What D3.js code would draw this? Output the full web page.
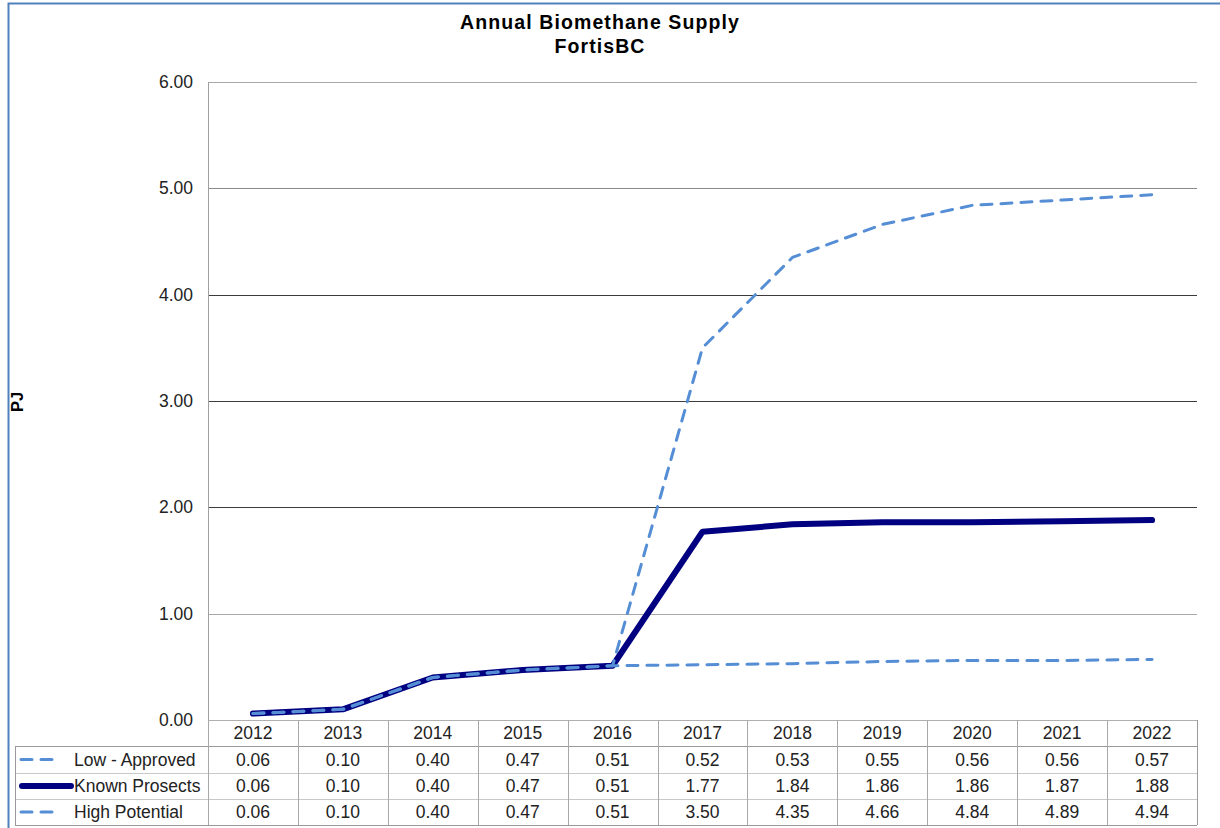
<!DOCTYPE html>
<html>
<head>
<meta charset="utf-8">
<script src="https://cdn.jsdelivr.net/npm/d3@7/dist/d3.min.js"></script>
<style>
  html, body { margin: 0; padding: 0; background: #fff; }
  svg { display: block; font-family: "Liberation Sans", Arial, sans-serif; }
</style>
</head>
<body>
<svg id="chart" width="1220" height="828"></svg>
<script>
// Annual biomethane supply scenarios (PJ)
const years = ["2012","2013","2014","2015","2016","2017","2018","2019","2020","2021","2022"];
const lowApproved   = [0.06, 0.10, 0.40, 0.47, 0.51, 0.52, 0.53, 0.55, 0.56, 0.56, 0.57];
const knownProspects = [0.06, 0.10, 0.40, 0.47, 0.51, 1.77, 1.84, 1.86, 1.86, 1.87, 1.88];
const highPotential = [0.06, 0.10, 0.40, 0.47, 0.51, 3.50, 4.35, 4.66, 4.84, 4.89, 4.94];
const seriesNames = ["Low - Approved", "Known Prosects", "High Potential"];
const yTicks = [0, 1, 2, 3, 4, 5, 6];

const series = [
  { name: seriesNames[0], values: lowApproved,    kind: "dash" },
  { name: seriesNames[1], values: knownProspects, kind: "solid" },
  { name: seriesNames[2], values: highPotential,  kind: "dash" }
];

const NAVY = "#000080";
const LIGHT = "#558ED5";
const DASH = "11,9";

const svg = d3.select("#chart");

// outer chart frame
svg.append("rect")
  .attr("x", 8.5).attr("y", 3.5)
  .attr("width", 1240).attr("height", 860)
  .attr("fill", "#fff")
  .attr("stroke", "#4F81BD").attr("stroke-width", 2);

const plot = { left: 208, right: 1197, top: 82, bottom: 720 };

const x = d3.scaleBand().domain(years).range([plot.left, plot.right]);
const y = d3.scaleLinear().domain([0, 6]).range([plot.bottom, plot.top]);
const cx = d => x(d) + x.bandwidth() / 2;

// title
const title = svg.append("g").attr("font-weight", "bold").attr("text-anchor", "middle")
  .attr("fill", "#000");
title.append("text").attr("x", 600).attr("y", 29)
  .attr("font-size", 19.5).attr("letter-spacing", 1.1)
  .text("Annual Biomethane Supply");
title.append("text").attr("x", 600).attr("y", 53)
  .attr("font-size", 19.5).attr("letter-spacing", 1.1)
  .text("FortisBC");

// gridlines
const gridTone = v => (v >= 2 && v <= 4) ? "#3c3c3c" : (v === 5 ? "#8a8a8a" : "#a8a8a8");
svg.append("g").selectAll("line").data(yTicks.filter(v => v > 0)).join("line")
  .attr("x1", plot.left).attr("x2", plot.right)
  .attr("y1", d => Math.round(y(d)) + 0.5).attr("y2", d => Math.round(y(d)) + 0.5)
  .attr("stroke", gridTone).attr("stroke-width", 1);

// value axis
const yAxis = svg.append("g").attr("transform", `translate(${plot.left},0)`)
  .call(d3.axisLeft(y).tickValues(yTicks).tickFormat(d3.format(".2f")).tickSize(0).tickPadding(15));
yAxis.select(".domain").remove();
yAxis.selectAll("text").attr("font-size", 17.5).attr("fill", "#222")
  .attr("font-family", "Liberation Sans, Arial, sans-serif");

svg.append("line")
  .attr("x1", plot.left + 0.5).attr("x2", plot.left + 0.5)
  .attr("y1", plot.top).attr("y2", plot.bottom)
  .attr("stroke", "#a0a0a0");

// axis title
svg.append("text")
  .attr("transform", "translate(23,402) rotate(-90)")
  .attr("text-anchor", "middle").attr("font-weight", "bold").attr("font-size", 16.5)
  .attr("font-family", "Liberation Sans, Arial, sans-serif")
  .text("PJ");

// data table
const rowTop = [720, 746, 773, 799];
const rowBot = [746, 773, 799, 825];
const tableLeft = 15;
const table = svg.append("g");

// header (category) row
table.selectAll("text.year").data(years).join("text")
  .attr("class", "year")
  .attr("x", cx).attr("y", 733).attr("dy", "0.35em")
  .attr("text-anchor", "middle").attr("font-size", 17.5).attr("fill", "#222")
  .text(d => d);

// horizontal rules
const hLines = [
  { y: 746, x1: tableLeft, c: "#9a9a9a" },
  { y: 773, x1: tableLeft, c: "#c8c8c8" },
  { y: 799, x1: tableLeft, c: "#c8c8c8" },
  { y: 825, x1: tableLeft, c: "#9a9a9a" }
];
table.selectAll("line.h").data(hLines).join("line")
  .attr("class", "h")
  .attr("x1", d => d.x1).attr("x2", plot.right)
  .attr("y1", d => d.y + 0.5).attr("y2", d => d.y + 0.5)
  .attr("stroke", d => d.c);

// category axis line
table.append("line")
  .attr("x1", plot.left).attr("x2", plot.right)
  .attr("y1", plot.bottom + 0.5).attr("y2", plot.bottom + 0.5)
  .attr("stroke", "#b0b0b0");

// vertical rules between categories
const bounds = years.map(d => x(d)).concat([plot.right]);
table.selectAll("line.v").data(bounds).join("line")
  .attr("class", "v")
  .attr("x1", d => Math.round(d) + 0.5).attr("x2", d => Math.round(d) + 0.5)
  .attr("y1", plot.bottom).attr("y2", 825)
  .attr("stroke", (d, i) => (i === bounds.length - 1) ? "#9a9a9a" : "#a8a8a8");

table.append("line")
  .attr("x1", tableLeft + 0.5).attr("x2", tableLeft + 0.5)
  .attr("y1", 746).attr("y2", 825)
  .attr("stroke", "#9a9a9a");

// series rows
series.forEach((s, i) => {
  const cyRow = (rowTop[i + 1] + rowBot[i + 1]) / 2;
  const row = table.append("g");
  const key = row.append("line")
    .attr("x1", s.kind === "solid" ? 22 : 21).attr("x2", s.kind === "solid" ? 71 : 58)
    .attr("y1", cyRow).attr("y2", cyRow)
    .attr("stroke-linecap", "round");
  if (s.kind === "solid") {
    key.attr("stroke", NAVY).attr("stroke-width", 6);
  } else {
    key.attr("stroke", LIGHT).attr("stroke-width", 3).attr("stroke-dasharray", DASH);
  }
  row.append("text")
    .attr("x", 74).attr("y", cyRow).attr("dy", "0.35em")
    .attr("font-size", 17.5).attr("fill", "#222")
    .text(s.name);
  row.selectAll("text.val").data(s.values).join("text")
    .attr("class", "val")
    .attr("x", (d, j) => cx(years[j])).attr("y", cyRow).attr("dy", "0.35em")
    .attr("text-anchor", "middle").attr("font-size", 17.5).attr("fill", "#222")
    .text(d => d3.format(".2f")(d));
});

// lines
const line = d3.line().x((d, j) => cx(years[j])).y(d => y(d));
const drawOrder = [series[1], series[0], series[2]];
svg.append("g").selectAll("path").data(drawOrder).join("path")
  .attr("d", d => line(d.values))
  .attr("fill", "none")
  .attr("stroke", d => d.kind === "solid" ? NAVY : LIGHT)
  .attr("stroke-width", d => d.kind === "solid" ? 6 : 3)
  .attr("stroke-dasharray", d => d.kind === "solid" ? null : DASH)
  .attr("stroke-linecap", "round")
  .attr("stroke-linejoin", "round");
</script>
</body>
</html>
